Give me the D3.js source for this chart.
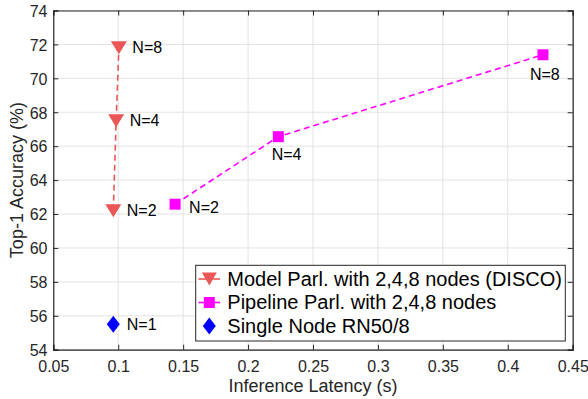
<!DOCTYPE html>
<html>
<head>
<meta charset="utf-8">
<script src="https://cdn.jsdelivr.net/npm/d3@7"></script>
<style>
  html, body { margin: 0; padding: 0; background: #fff; }
  svg { display: block; font-family: "Liberation Sans", Arial, Helvetica, sans-serif; }
</style>
</head>
<body>
<svg id="chart" width="588" height="399"></svg>
<script>
// ---- data ----
const modelLatency = [0.0962, 0.0984, 0.1005];
const modelAccuracy = [62.2, 67.5, 71.8];
const modelLabels = ["N=2", "N=4", "N=8"];

const pipeLatency = [0.1438, 0.2233, 0.4271];
const pipeAccuracy = [62.58, 66.56, 71.39];
const pipeLabels = ["N=2", "N=4", "N=8"];

const singleLatency = [0.0962];
const singleAccuracy = [55.5];
const singleLabels = ["N=1"];

const xTicks = [0.05, 0.1, 0.15, 0.2, 0.25, 0.3, 0.35, 0.4, 0.45];
const yTicks = [54, 56, 58, 60, 62, 64, 66, 68, 70, 72, 74];
const legendLabels = [
  "Model Parl. with 2,4,8 nodes (DISCO)",
  "Pipeline Parl. with 2,4,8 nodes",
  "Single Node RN50/8"
];

// label offsets (styling)
const modelLabelOffsets = [[13.5, 5], [13.5, 5], [13.5, 5]];
const pipeLabelOffsets = [[14, 9], [-6.6, 23.3], [-13, 25.3]];
const singleLabelOffsets = [[13.5, 5.5]];

// ---- layout ----
const W = 588, H = 399;
const m = { left: 53.3, right: 15.3, top: 10.5, bottom: 49.3 };
const x = d3.scaleLinear().domain([0.05, 0.45]).range([m.left, W - m.right]);
const y = d3.scaleLinear().domain([54, 74]).range([H - m.bottom, m.top]);

const RED = "#EB5656", MAG = "#FF00FF", BLUE = "#0000FF";
const svg = d3.select("#chart");

// grid
const g = svg.append("g");
g.selectAll("line.gx").data(xTicks).join("line")
  .attr("x1", d => x(d)).attr("x2", d => x(d))
  .attr("y1", m.top).attr("y2", H - m.bottom)
  .attr("stroke", "#e3e3e3").attr("stroke-width", 1);
g.selectAll("line.gy").data(yTicks).join("line")
  .attr("y1", d => y(d)).attr("y2", d => y(d))
  .attr("x1", m.left).attr("x2", W - m.right)
  .attr("stroke", "#e3e3e3").attr("stroke-width", 1);

// axes (inward ticks, box)
const axCol = "#262626";
const fmtX = d => d3.format("")(+d.toFixed(2));
const xb = svg.append("g").attr("transform", `translate(0,${H - m.bottom})`)
  .call(d3.axisBottom(x).tickValues(xTicks).tickSize(-5).tickPadding(10).tickFormat(fmtX));
const xt = svg.append("g").attr("transform", `translate(0,${m.top})`)
  .call(d3.axisTop(x).tickValues(xTicks).tickSize(-5).tickFormat(""));
const yl = svg.append("g").attr("transform", `translate(${m.left},0)`)
  .call(d3.axisLeft(y).tickValues(yTicks).tickSize(-5).tickPadding(5.8));
const yr = svg.append("g").attr("transform", `translate(${W - m.right},0)`)
  .call(d3.axisRight(y).tickValues(yTicks).tickSize(-5).tickFormat(""));
[xb, xt, yl, yr].forEach(a => {
  a.select(".domain").attr("stroke", axCol).attr("stroke-width", 1.2);
  a.selectAll(".tick line").attr("stroke", axCol).attr("stroke-width", 1);
  a.selectAll(".tick text").attr("fill", axCol).style("font-size", "16px")
    .style("font-family", "Liberation Sans, Arial, sans-serif");
});
yl.selectAll(".tick text").attr("dy", "0.36em");
xb.selectAll(".tick text").attr("dy", "0.75em");

// axis labels
svg.append("text").attr("x", (m.left + W - m.right) / 2).attr("y", 392)
  .attr("text-anchor", "middle").attr("fill", axCol).style("font-size", "18px")
  .text("Inference Latency (s)");
svg.append("text")
  .attr("transform", `translate(22.5,${(m.top + H - m.bottom) / 2}) rotate(-90)`)
  .attr("text-anchor", "middle").attr("fill", axCol).style("font-size", "18px")
  .text("Top-1 Accuracy (%)");

// marker paths
function triDown(cx, cy, w = 16, h = 13) {
  return `M${cx - w / 2},${cy - h / 2}L${cx + w / 2},${cy - h / 2}L${cx},${cy + h / 2}Z`;
}
function square(cx, cy, s = 11) {
  return `M${cx - s / 2},${cy - s / 2}h${s}v${s}h${-s}Z`;
}
function diamond(cx, cy, w = 13, h = 17) {
  return `M${cx},${cy - h / 2}L${cx + w / 2},${cy}L${cx},${cy + h / 2}L${cx - w / 2},${cy}Z`;
}

const line = d3.line().x(d => x(d[0])).y(d => y(d[1]));
const modelPts = modelLatency.map((v, i) => [v, modelAccuracy[i]]);
const pipePts = pipeLatency.map((v, i) => [v, pipeAccuracy[i]]);
const singlePts = singleLatency.map((v, i) => [v, singleAccuracy[i]]);

svg.append("path").attr("d", line(modelPts)).attr("fill", "none")
  .attr("stroke", RED).attr("stroke-width", 1.6).attr("stroke-dasharray", "6,4");
svg.append("path").attr("d", line(pipePts)).attr("fill", "none")
  .attr("stroke", MAG).attr("stroke-width", 1.6).attr("stroke-dasharray", "6,4");

svg.selectAll("path.mm").data(modelPts).join("path")
  .attr("d", d => triDown(x(d[0]), y(d[1]))).attr("fill", RED);
svg.selectAll("path.pm").data(pipePts).join("path")
  .attr("d", d => square(x(d[0]), y(d[1]))).attr("fill", MAG);
svg.selectAll("path.sm").data(singlePts).join("path")
  .attr("d", d => diamond(x(d[0]), y(d[1]))).attr("fill", BLUE);

function labels(pts, texts, offs) {
  svg.append("g").selectAll("text").data(pts).join("text")
    .attr("x", (d, i) => x(d[0]) + offs[i][0])
    .attr("y", (d, i) => y(d[1]) + offs[i][1])
    .attr("fill", "#000").style("font-size", "16px")
    .text((d, i) => texts[i]);
}
labels(modelPts, modelLabels, modelLabelOffsets);
labels(pipePts, pipeLabels, pipeLabelOffsets);
labels(singlePts, singleLabels, singleLabelOffsets);

// legend
const lg = svg.append("g");
lg.append("rect").attr("x", 195.7).attr("y", 265.3).attr("width", 369.6).attr("height", 75.7)
  .attr("fill", "#fff").attr("stroke", axCol).attr("stroke-width", 1);
const rowY = [279, 302.5, 326];
const lineCols = [RED, MAG, null];
const markers = [
  (cx, cy) => triDown(cx, cy, 15, 13),
  (cx, cy) => square(cx, cy, 11),
  (cx, cy) => diamond(cx, cy, 13, 17)
];
const markCols = [RED, MAG, BLUE];
legendLabels.forEach((t, i) => {
  if (lineCols[i]) {
    lg.append("line").attr("x1", 198.5).attr("x2", 220).attr("y1", rowY[i]).attr("y2", rowY[i])
      .attr("stroke", lineCols[i]).attr("stroke-width", 1.6);
  }
  lg.append("path").attr("d", markers[i](209.3, rowY[i])).attr("fill", markCols[i]);
  lg.append("text").attr("x", 227.3).attr("y", rowY[i] + 6.8)
    .attr("fill", "#000").style("font-size", "20px").text(t);
});
</script>
</body>
</html>
